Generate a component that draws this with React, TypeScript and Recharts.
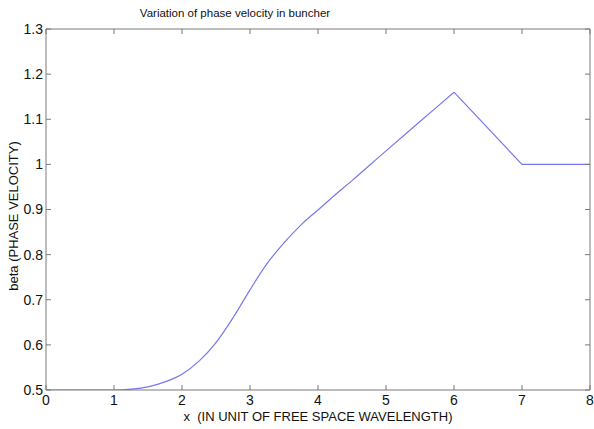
import React from 'react';
import { LineChart, Line, XAxis, YAxis } from 'recharts';

// position along the buncher, in free-space wavelengths
const xValues = [0, 0.5, 1, 1.25, 1.5, 1.75, 2, 2.25, 2.5, 2.75, 3, 3.25, 3.5, 3.75, 4, 4.25, 4.5, 5, 5.5, 6, 7, 8];
// beta (phase velocity), smooth rising part up to the peak
const riseValues = [0.5, 0.5, 0.5, 0.502, 0.507, 0.518, 0.535, 0.564, 0.605, 0.66, 0.722, 0.78, 0.826, 0.866, 0.899, 0.932, 0.964, 1.03, 1.095, 1.16, null, null];
// straight fall after the peak and flat tail
const tailValues = [null, null, null, null, null, null, null, null, null, null, null, null, null, null, null, null, null, null, null, 1.16, 1.0, 1.0];

const xTicks = [0, 1, 2, 3, 4, 5, 6, 7, 8];
const yTicks = [0.5, 0.6, 0.7, 0.8, 0.9, 1, 1.1, 1.2, 1.3];

const data = xValues.map((x, i) => ({ x, rise: riseValues[i], tail: tailValues[i] }));

const AXIS = '#7a7a7a';
const LINE = '#7878ee';
const FONT = '"Liberation Sans", Arial, sans-serif';

const BottomTick = (p: any) => (
  <g>
    <line x1={p.x} y1={p.y} x2={p.x} y2={p.y - 5} stroke={AXIS} />
    <text x={p.x} y={p.y + 5} dy="0.71em" textAnchor="middle" fontSize={14} fill="#111" fontFamily={FONT}>
      {p.payload.value}
    </text>
  </g>
);

const LeftTick = (p: any) => (
  <g>
    <line x1={p.x} y1={p.y} x2={p.x + 5} y2={p.y} stroke={AXIS} />
    <text x={p.x - 3} y={p.y} dy="0.35em" textAnchor="end" fontSize={14} fill="#111" fontFamily={FONT}>
      {p.payload.value}
    </text>
  </g>
);

const TopTick = (p: any) => <line x1={p.x} y1={p.y} x2={p.x} y2={p.y + 5} stroke={AXIS} />;
const RightTick = (p: any) => <line x1={p.x} y1={p.y} x2={p.x - 5} y2={p.y} stroke={AXIS} />;

export default function App() {
  return (
    <div style={{ position: 'absolute', left: 0, top: 0, width: 594, height: 429, background: '#fff', fontFamily: FONT }}>
      <LineChart width={594} height={429} data={data} margin={{ top: 28, right: 3, bottom: 0, left: 0 }}>
        <XAxis dataKey="x" type="number" domain={[0, 8]} ticks={xTicks} allowDataOverflow
          height={39} tickSize={0} tickMargin={0} stroke={AXIS} tick={BottomTick} interval={0} />
        <XAxis xAxisId="top" orientation="top" dataKey="x" type="number" domain={[0, 8]} ticks={xTicks} allowDataOverflow
          height={1} tickSize={0} tickMargin={0} stroke={AXIS} tick={TopTick} interval={0} />
        <YAxis type="number" domain={[0.5, 1.3]} ticks={yTicks} allowDataOverflow
          width={46} tickSize={0} tickMargin={0} stroke={AXIS} tick={LeftTick} interval={0} />
        <YAxis yAxisId="right" orientation="right" type="number" domain={[0.5, 1.3]} ticks={yTicks} allowDataOverflow
          width={1} tickSize={0} tickMargin={0} stroke={AXIS} tick={RightTick} interval={0} />
        <Line type="monotoneX" dataKey="rise" stroke={LINE} strokeWidth={1.2} dot={false} isAnimationActive={false} />
        <Line xAxisId="top" yAxisId="right" type="linear" dataKey="tail" stroke={LINE} strokeWidth={1.2} dot={false} isAnimationActive={false} />
      </LineChart>
      <div style={{ position: 'absolute', left: 35, width: 400, top: 7, textAlign: 'center', fontSize: 11.5, color: '#111' }}>
        Variation of phase velocity in buncher
      </div>
      <div style={{ position: 'absolute', left: 118, width: 400, top: 409, textAlign: 'center', fontSize: 13, color: '#111' }}>
        x&nbsp;&nbsp;(IN UNIT OF FREE SPACE WAVELENGTH)
      </div>
      <div style={{ position: 'absolute', left: 13, top: 216, transform: 'translate(-50%, -50%) rotate(-90deg)', whiteSpace: 'nowrap', fontSize: 13, color: '#111' }}>
        beta (PHASE VELOCITY)
      </div>
    </div>
  );
}
